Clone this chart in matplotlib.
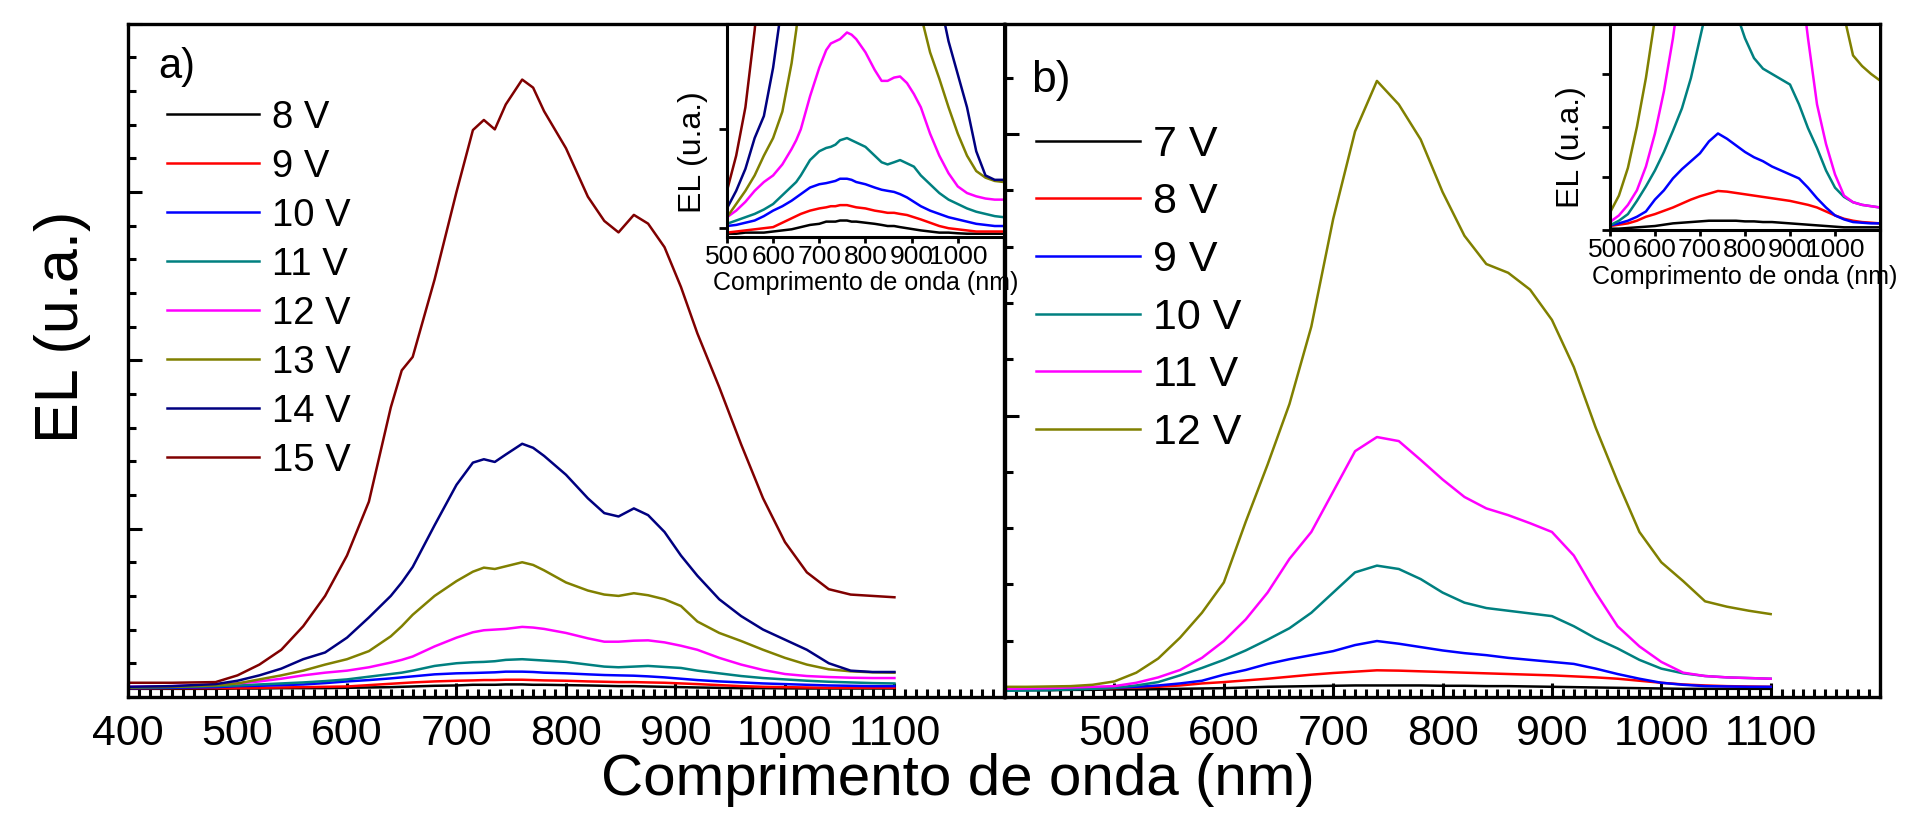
import matplotlib
matplotlib.use('Agg')
from matplotlib import pyplot as plt
from matplotlib.ticker import MultipleLocator

# espectros de EL, unidades arbitrarias (0-100 na escala do painel)
# painel a) 8 V ... 15 V
wl_a = [400, 440, 480, 500, 520,
        540, 560, 580, 600, 620,
        640, 650, 660, 680, 700,
        715, 725, 735, 745, 760,
        770, 780, 800, 820, 835,
        848, 862, 875, 890, 905,
        920, 940, 960, 980, 1000,
        1020, 1040, 1060, 1080, 1100]

a_8v = [1.2, 1.2, 1.2, 1.25, 1.25,
        1.3, 1.3, 1.3, 1.35, 1.4,
        1.45, 1.5, 1.55, 1.65, 1.7,
        1.8, 1.8, 1.8, 1.85, 1.85,
        1.8, 1.8, 1.75, 1.7, 1.65,
        1.6, 1.6, 1.55, 1.5, 1.45,
        1.4, 1.35, 1.3, 1.3, 1.27,
        1.25, 1.25, 1.25, 1.25, 1.25]
a_9v = [1.3, 1.3, 1.3, 1.3, 1.35,
        1.4, 1.45, 1.5, 1.55, 1.75,
        1.95, 2.05, 2.15, 2.3, 2.4,
        2.45, 2.5, 2.5, 2.55, 2.55,
        2.5, 2.45, 2.4, 2.3, 2.25,
        2.2, 2.2, 2.15, 2.1, 2.0,
        1.9, 1.75, 1.6, 1.5, 1.45,
        1.4, 1.35, 1.35, 1.35, 1.35]
a_10v = [1.3, 1.35, 1.45, 1.6, 1.65,
         1.75, 1.85, 2.05, 2.3, 2.5,
         2.75, 2.9, 3.05, 3.35, 3.5,
         3.55, 3.6, 3.65, 3.75, 3.75,
         3.7, 3.6, 3.5, 3.35, 3.25,
         3.2, 3.15, 3.05, 2.9, 2.7,
         2.5, 2.3, 2.15, 2.0, 1.9,
         1.8, 1.7, 1.65, 1.6, 1.6]
a_11v = [1.4, 1.45, 1.6, 1.7, 1.85,
         2.0, 2.15, 2.35, 2.6, 3.0,
         3.4, 3.6, 3.9, 4.6, 5.0,
         5.15, 5.2, 5.3, 5.5, 5.6,
         5.5, 5.4, 5.2, 4.8, 4.5,
         4.4, 4.5, 4.6, 4.45, 4.3,
         3.9, 3.5, 3.1, 2.8, 2.6,
         2.4, 2.25, 2.15, 2.05, 2.0]
a_12v = [1.5, 1.6, 1.8, 2.0, 2.3,
         2.7, 3.2, 3.6, 3.9, 4.4,
         5.1, 5.5, 6.0, 7.5, 8.8,
         9.6, 9.9, 10.0, 10.1, 10.4,
         10.3, 10.1, 9.5, 8.7, 8.2,
         8.2, 8.35, 8.4, 8.1, 7.6,
         7.0, 5.8, 4.8, 4.0, 3.4,
         3.1, 2.95, 2.85, 2.8, 2.8]
a_13v = [1.4, 1.5, 1.7, 2.0, 2.6,
         3.2, 3.9, 4.8, 5.6, 6.8,
         9.0, 10.5, 12.2, 15.0, 17.2,
         18.6, 19.2, 19.0, 19.4, 20.0,
         19.6, 18.8, 17.0, 15.8, 15.2,
         15.0, 15.4, 15.1, 14.5, 13.5,
         11.2, 9.5, 8.3, 7.0, 5.8,
         4.8, 4.1, 3.8, 3.65, 3.6]
a_14v = [1.5, 1.6, 1.9, 2.4, 3.2,
         4.2, 5.6, 6.6, 8.8, 11.8,
         15.0, 17.0, 19.3, 25.5, 31.5,
         34.8, 35.3, 34.9, 36.0, 37.6,
         37.0, 35.8, 33.0, 29.5, 27.3,
         26.8, 28.0, 27.0, 24.5, 21.0,
         18.0, 14.5, 12.0, 10.0, 8.5,
         7.0, 5.0, 3.9, 3.7, 3.7]
a_15v = [2.1, 2.1, 2.2, 3.2, 4.8,
         7.0, 10.5, 15.0, 21.0, 29.0,
         43.0, 48.5, 50.5, 62.0, 75.0,
         84.2, 85.7, 84.3, 88.0, 91.7,
         90.5, 87.0, 81.5, 74.3, 70.7,
         69.0, 71.6, 70.3, 66.8, 60.9,
         54.0, 46.0, 37.5, 29.5, 23.0,
         18.5, 16.0, 15.2, 15.0, 14.8]

# painel b) 7 V ... 12 V
wl_b = [400, 420, 440, 460, 480, 500,
        520, 540, 560, 580, 600, 620,
        640, 660, 680, 700, 720, 740,
        760, 780, 800, 820, 840, 860,
        880, 900, 920, 940, 960, 980,
        1000, 1020, 1040, 1060, 1080, 1100]

b_7v = [1.0, 1.0, 1.0, 1.05, 1.05, 1.1,
        1.1, 1.15, 1.2, 1.25, 1.3, 1.4,
        1.5, 1.55, 1.6, 1.65, 1.7, 1.7,
        1.7, 1.7, 1.65, 1.65, 1.6, 1.6,
        1.55, 1.5, 1.45, 1.4, 1.35, 1.3,
        1.25, 1.2, 1.2, 1.2, 1.2, 1.2]
b_8v = [1.1, 1.1, 1.15, 1.2, 1.25, 1.3,
        1.4, 1.5, 1.7, 2.0, 2.2, 2.45,
        2.7, 3.0, 3.3, 3.55, 3.75, 3.95,
        3.9, 3.8, 3.7, 3.6, 3.5, 3.4,
        3.3, 3.2, 3.05, 2.9, 2.7, 2.4,
        2.1, 1.85, 1.7, 1.6, 1.55, 1.5]
b_9v = [1.1, 1.15, 1.2, 1.25, 1.3, 1.35,
        1.5, 1.7, 2.0, 2.4, 3.3, 4.0,
        4.9, 5.6, 6.2, 6.8, 7.7, 8.3,
        7.9, 7.4, 6.9, 6.5, 6.2, 5.8,
        5.5, 5.2, 4.9, 4.2, 3.4, 2.7,
        2.1, 1.8, 1.6, 1.55, 1.5, 1.5]
b_10v = [0.9, 0.95, 1.0, 1.1, 1.2, 1.35,
         1.7, 2.2, 3.2, 4.3, 5.5, 6.9,
         8.5, 10.2, 12.5, 15.5, 18.5, 19.5,
         19.0, 17.5, 15.5, 14.0, 13.2, 12.8,
         12.4, 12.0, 10.5, 8.7, 7.2, 5.5,
         4.2, 3.5, 3.1, 2.9, 2.8, 2.7]
b_11v = [1.2, 1.25, 1.3, 1.4, 1.5, 1.6,
         2.1, 2.9, 4.0, 5.8, 8.3, 11.5,
         15.5, 20.5, 24.5, 30.5, 36.5, 38.6,
         38.0, 35.2, 32.3, 29.7, 28.0, 27.0,
         25.8, 24.5, 21.0, 15.5, 10.5, 7.5,
         5.2, 3.6, 3.1, 2.9, 2.8, 2.7]
b_12v = [1.5, 1.5, 1.55, 1.6, 1.8, 2.3,
         3.6, 5.7, 8.8, 12.5, 17.0, 26.0,
         34.5, 43.5, 55.0, 71.0, 84.0, 91.5,
         88.0, 82.8, 75.0, 68.5, 64.3, 63.0,
         60.5, 56.0, 49.0, 40.0, 32.0, 24.5,
         20.0, 17.2, 14.2, 13.4, 12.8, 12.3]

labels_a = ['8 V', '9 V', '10 V', '11 V', '12 V', '13 V', '14 V', '15 V']
series_a = [a_8v, a_9v, a_10v, a_11v, a_12v, a_13v, a_14v, a_15v]
labels_b = ['7 V', '8 V', '9 V', '10 V', '11 V', '12 V']
series_b = [b_7v, b_8v, b_9v, b_10v, b_11v, b_12v]

cores = ['#000000', '#ff0000', '#0000ff', '#008080', '#ff00ff', '#808000', '#000080', '#800000']

plt.rcParams['font.family'] = ['Liberation Sans', 'DejaVu Sans']
plt.rcParams['axes.linewidth'] = 2.4

fig = plt.figure(figsize=(19.05, 8.17), dpi=100)
ax_a = fig.add_axes([0.0672, 0.147, 0.4598, 0.824])
ax_b = fig.add_axes([0.5276, 0.147, 0.4593, 0.824])
ins_a = fig.add_axes([0.3816, 0.7099, 0.1454, 0.2611])
ins_b = fig.add_axes([0.8451, 0.7185, 0.1418, 0.2525])

# curvas principais
for y, lab, c in zip(series_a, labels_a, cores):
    ax_a.plot(wl_a, y, color=c, lw=1.8, label=lab)
    ins_a.plot(wl_a, y, color=c, lw=1.8)
for y, lab, c in zip(series_b, labels_b, cores):
    ax_b.plot(wl_b, y, color=c, lw=1.8, label=lab)
    ins_b.plot(wl_b, y, color=c, lw=1.8)

# eixos principais
ax_a.set_xticks([400, 500, 600, 700, 800, 900, 1000, 1100])
ax_b.set_xticks([500, 600, 700, 800, 900, 1000, 1100])
ax_a.yaxis.set_major_locator(MultipleLocator(25))
ax_a.yaxis.set_minor_locator(MultipleLocator(5))
ax_b.yaxis.set_major_locator(MultipleLocator(41.8))
ax_b.yaxis.set_minor_locator(MultipleLocator(8.36))
for ax in (ax_a, ax_b):
    ax.set_xlim(400, 1200)
    ax.set_ylim(0, 100)
    ax.xaxis.set_minor_locator(MultipleLocator(10))
    ax.tick_params(which='both', direction='in', top=False, right=False, width=2.2,
                   labelleft=False)
    ax.tick_params(which='major', length=10)
    ax.tick_params(which='minor', length=5.5)
    ax.tick_params(axis='x', labelsize=31, pad=12)

ax_a.text(0.034, 0.935, 'a)', transform=ax_a.transAxes, fontsize=30, ha='left', va='center')
ax_b.text(0.03, 0.915, 'b)', transform=ax_b.transAxes, fontsize=32, ha='left', va='center')

ax_a.legend(loc='upper left', bbox_to_anchor=(0.045, 0.887), frameon=False, fontsize=27.5,
            handlelength=2.4, handletextpad=0.35, labelspacing=0.34, borderpad=0, borderaxespad=0)
ax_b.legend(loc='upper left', bbox_to_anchor=(0.035, 0.85), frameon=False, fontsize=31,
            handlelength=2.42, handletextpad=0.3, labelspacing=0.41, borderpad=0, borderaxespad=0)

# insets (zoom nas curvas de baixa intensidade)
ins_a.set_ylim(1.1, 10.8)
ins_a.set_yticks([1.5, 6.0])
ins_b.set_ylim(1.0, 16.6)
ins_b.set_yticks([1.0, 5.0, 8.8, 12.8])
for ins in (ins_a, ins_b):
    ins.set_xlim(500, 1100)
    ins.set_xticks([500, 600, 700, 800, 900, 1000])
    ins.tick_params(direction='out', width=2, labelleft=False, labelsize=19, pad=2)
    ins.tick_params(axis='x', length=4)
    ins.tick_params(axis='y', length=6)
    for s in ins.spines.values():
        s.set_linewidth(2.2)
    ins.set_xlabel('Comprimento de onda (nm)', fontsize=18)
    ins.set_ylabel('EL (u.a.)', fontsize=23)
ins_a.xaxis.set_label_coords(0.5, -0.16)
ins_b.xaxis.set_label_coords(0.5, -0.17)
ins_a.yaxis.set_label_coords(-0.07, 0.40)
ins_b.yaxis.set_label_coords(-0.09, 0.40)

fig.text(0.503, 0.045, 'Comprimento de onda (nm)', fontsize=42, ha='center', va='center')
fig.text(0.033, 0.60, 'EL (u.a.)', fontsize=44, rotation=90, ha='center', va='center')

fig.savefig('out.png', dpi=100)
